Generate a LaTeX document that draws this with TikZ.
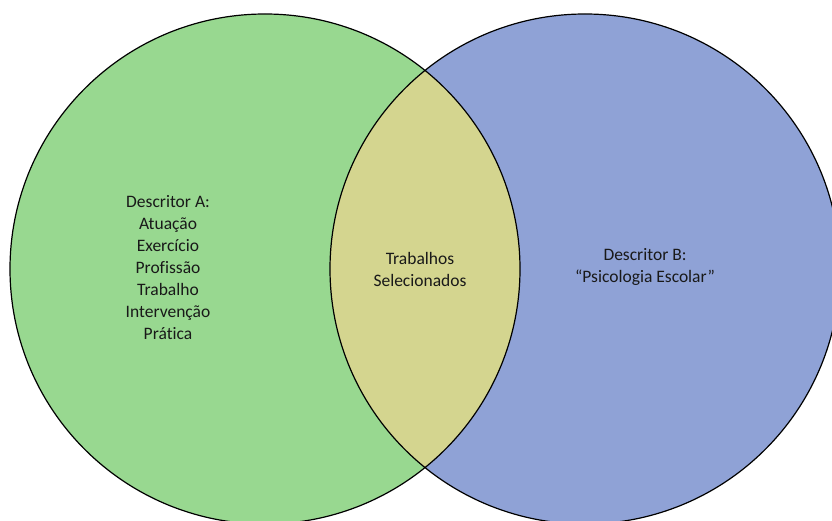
\documentclass[tikz,border=0pt]{standalone}
\usepackage{fontspec}
\setmainfont{Carlito}[Ligatures=NoCommon]
\definecolor{setA}{RGB}{152,216,144}
\definecolor{setB}{RGB}{143,162,214}
\definecolor{setAB}{RGB}{212,213,143}
\tikzset{
  label text/.style={align=center, font=\fontsize{17.5}{22}\selectfont, text=black!90}
}
\begin{document}
\begin{tikzpicture}[x=1pt,y=1pt]

  \newcommand\Rad{255pt}

  \useasboundingbox (0,0) rectangle (832,520); %% page

  \coordinate (ca) at (265,251);
  \coordinate (cb) at (585,251);

  \fill[setA] (ca) circle[radius=\Rad];
  \fill[setB] (cb) circle[radius=\Rad];
  \begin{scope}
    \clip (ca) circle[radius=\Rad];
    \fill[setAB] (cb) circle[radius=\Rad];
  \end{scope}
  \draw[line width=1.2pt] (ca) circle[radius=\Rad] (cb) circle[radius=\Rad];

  \node[label text] (descA) at (168,252)
  {Descritor A:\\Atuação\\Exercício\\Profissão\\Trabalho\\Intervenção\\Prática};
  \node[label text] (both) at (420,251) {Trabalhos\\Selecionados};
  \node[label text] (descB) at (645,253) {Descritor B:\\“Psicologia Escolar”};

\end{tikzpicture}
\end{document}
